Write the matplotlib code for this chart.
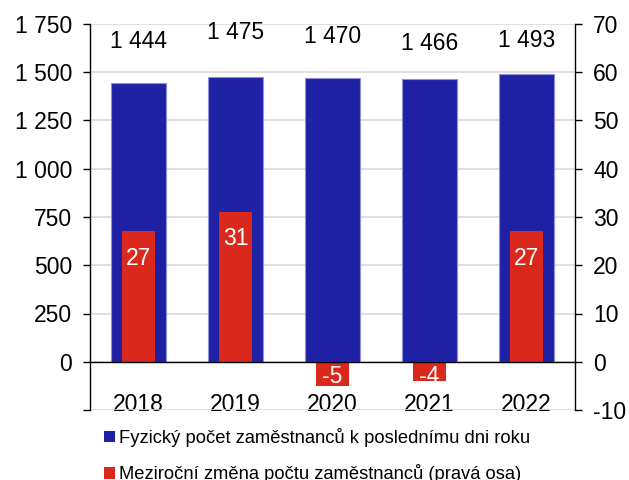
import matplotlib
matplotlib.use("Agg")
import matplotlib.pyplot as plt
from matplotlib.patches import Patch
from matplotlib.ticker import FixedLocator, FuncFormatter

plt.rcParams["font.family"] = ["Liberation Sans", "DejaVu Sans"]
plt.rcParams["axes.unicode_minus"] = False

# data
years = ["2018", "2019", "2020", "2021", "2022"]
headcount = [1444, 1475, 1470, 1466, 1493]
yoy_change = [27, 31, -5, -4, 27]

# layout only: baselines of the headcount labels (left axis units)
headcount_label_y = [1626, 1673, 1652, 1616, 1631]

BLUE = "#1F21A5"
RED = "#DA291C"
FS = 16.5


def space_thousands(v, pos=None):
    if v < 0:
        return ""
    return f"{int(v):,}".replace(",", " ")


fig = plt.figure(figsize=(6.29, 4.80), dpi=100)
ax = fig.add_axes([90 / 629, 1 - 410 / 480, 485 / 629, 386 / 480])
ax2 = ax.twinx()

x = list(range(len(years)))

ax.bar(x, headcount, width=0.56, color=BLUE, edgecolor="#8E8EDC",
       linewidth=0.8, zorder=2)
ax2.bar(x, yoy_change, width=0.33, color=RED, zorder=2)
ax2.axhline(0, color="black", linewidth=1.0, zorder=5)

ax.set_xlim(-0.5, len(years) - 0.5)
ax.set_ylim(-250, 1750)
ax2.set_ylim(-10, 70)

ax.yaxis.set_major_locator(FixedLocator(range(-250, 1751, 250)))
ax.yaxis.set_major_formatter(FuncFormatter(space_thousands))
ax2.yaxis.set_major_locator(FixedLocator(range(-10, 71, 10)))

ax.grid(axis="y", color="#D9D9D9", linewidth=1.2, zorder=0)
ax.set_axisbelow(True)

for spine in ["top", "bottom", "right"]:
    ax.spines[spine].set_visible(False)
for spine in ["top", "bottom", "left"]:
    ax2.spines[spine].set_visible(False)
ax.spines["left"].set_linewidth(1.0)
ax2.spines["right"].set_linewidth(1.0)

ax.tick_params(axis="y", labelsize=FS, length=5, width=1.0, pad=8)
ax2.tick_params(axis="y", labelsize=FS, length=5, width=1.0, pad=8)
ax.set_xticks(x)
ax.set_xticklabels(years)
ax.tick_params(axis="x", labelsize=FS, length=0, pad=-12.5)

for i, (v, ly) in enumerate(zip(headcount, headcount_label_y)):
    ax.text(i, ly, space_thousands(v), ha="center", va="baseline",
            fontsize=FS, color="black")

for i, v in enumerate(yoy_change):
    dy = -11 if v > 0 else -2.5
    ax2.annotate(str(v), (i, v if v > 0 else 0), xytext=(0, dy),
                 textcoords="offset points", ha="center", va="top",
                 fontsize=FS, color="white", zorder=6)

handles = [Patch(facecolor=BLUE, edgecolor="none"),
           Patch(facecolor=RED, edgecolor="none")]
labels = ["Fyzický počet zaměstnanců k poslednímu dni roku",
          "Meziroční změna počtu zaměstnanců (pravá osa)"]
fig.legend(handles, labels, loc="upper left",
           bbox_to_anchor=(104 / 629, 1 - 428 / 480), frameon=False,
           fontsize=13.2, handlelength=0.6, handleheight=0.6,
           handletextpad=0.2, labelspacing=0.95, borderaxespad=0,
           borderpad=0)

fig.savefig("out.png", dpi=100)
